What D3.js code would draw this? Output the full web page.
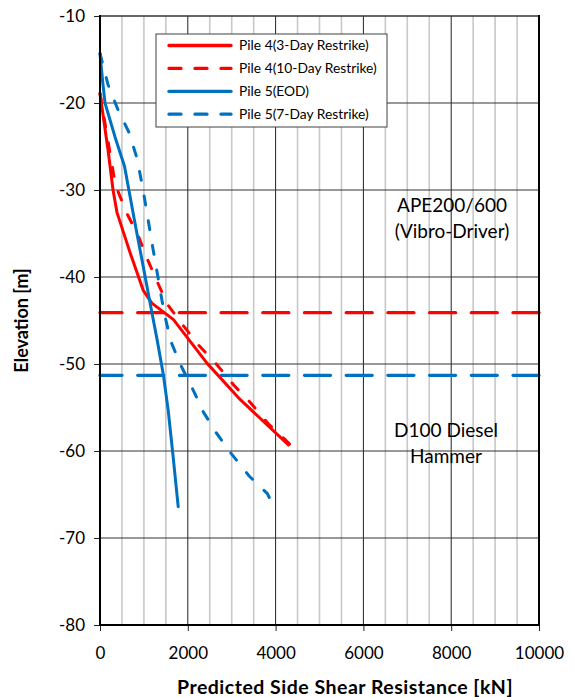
<!DOCTYPE html>
<html><head><meta charset="utf-8">
<script src="https://cdn.jsdelivr.net/npm/d3@7"></script>
<style>body{margin:0;background:#fff}</style>
</head><body>
<svg id="c" width="574" height="697"></svg>
<script>
// ---- data ----
const xTicks = [0, 2000, 4000, 6000, 8000, 10000];
const yTicks = [-80, -70, -60, -50, -40, -30, -20, -10];
const seriesNames = ["Pile 4(3-Day Restrike)", "Pile 4(10-Day Restrike)", "Pile 5(EOD)", "Pile 5(7-Day Restrike)"];
const pile4Day3X = [0, 183, 297, 388, 685, 982, 1180, 1674, 2436, 3196, 4292];
const pile4Day3Y = [-18.9, -25.4, -30, -32.6, -37.2, -41.5, -43.0, -44.9, -49.9, -54.1, -59.3];
const pile4Day10X = [0, 320, 342, 605, 890, 1076, 1300, 1530, 1900, 2240, 2650, 3060, 3420, 3840, 4178, 4340];
const pile4Day10Y = [-18.9, -28.5, -29.3, -32.6, -35.5, -37.9, -40.5, -43.1, -45.6, -47.8, -50, -52.5, -54.4, -56.9, -58.5, -59.3];
const pile5EodX = [0, 60, 114, 342, 560, 640, 826, 1030, 1171, 1301, 1445, 1553, 1667, 1781];
const pile5EodY = [-14.3, -17.5, -20, -23.9, -27.3, -29.5, -34.6, -40, -43.8, -47.2, -51.3, -55.3, -60.7, -66.4];
const pile5Day7X = [0, 183, 411, 662, 845, 959, 1060, 1160, 1320, 1460, 1614, 1826, 2123, 2352, 2648, 2990, 3402, 3813, 3881];
const pile5Day7Y = [-14.3, -17.9, -20.8, -23.4, -26.4, -29.4, -32.3, -35.4, -40, -44.1, -47.4, -50, -53, -55.5, -57.9, -60.3, -62.9, -64.9, -65.6];
const hammerLevels = [-44.1, -51.3];
const annotations = [["APE200/600", "(Vibro-Driver)"], ["D100 Diesel", "Hammer"]];

// ---- layout ----
const svg = d3.select("#c");
const L = 100, R = 539, T = 16, B = 625;
const x = d3.scaleLinear().domain([0, 10000]).range([L, R]);
const y = d3.scaleLinear().domain([-80, -10]).range([B, T]);
const RED = "#ff0000", BLUE = "#0070c0";
const FONT = "Lato, 'Open Sans', sans-serif";

// minor vertical grid
const minor = d3.range(500, 10000, 500).filter(v => v % 2000 !== 0);
svg.append("g").selectAll("line").data(minor).join("line")
  .attr("x1", d => x(d)).attr("x2", d => x(d)).attr("y1", T).attr("y2", B)
  .attr("stroke", "#c8c8c8").attr("stroke-width", 1.6);
// major vertical grid
svg.append("g").selectAll("line").data(xTicks.filter(v => v > 0 && v < 10000)).join("line")
  .attr("x1", d => x(d)).attr("x2", d => x(d)).attr("y1", T).attr("y2", B)
  .attr("stroke", "#222").attr("stroke-width", 1);
// horizontal grid
svg.append("g").selectAll("line").data(yTicks.filter(v => v > -80)).join("line")
  .attr("x1", L).attr("x2", R).attr("y1", d => y(d)).attr("y2", d => y(d))
  .attr("stroke", "#333").attr("stroke-width", d => d === -10 ? 1.6 : 1);

// hammer change levels
svg.append("g").selectAll("line").data(hammerLevels).join("line")
  .attr("x1", L).attr("x2", R).attr("y1", d => y(d)).attr("y2", d => y(d))
  .attr("stroke", (d, i) => i === 0 ? RED : BLUE).attr("stroke-width", 3.3)
  .attr("stroke-linecap", "round").attr("stroke-dasharray", "26,15.7").attr("stroke-dashoffset", 4);

// series
const series = [
  {xs: pile4Day3X, ys: pile4Day3Y, color: RED, dash: null},
  {xs: pile4Day10X, ys: pile4Day10Y, color: RED, dash: "9,16"},
  {xs: pile5EodX, ys: pile5EodY, color: BLUE, dash: null},
  {xs: pile5Day7X, ys: pile5Day7Y, color: BLUE, dash: "9,16"}
];
const line = d3.line().x(d => x(d[0])).y(d => y(d[1]));
series.forEach(s => {
  svg.append("path").datum(s.xs.map((v, i) => [v, s.ys[i]]))
    .attr("d", line).attr("fill", "none").attr("stroke", s.color)
    .attr("stroke-width", 3).attr("stroke-linejoin", "round").attr("stroke-linecap", "round")
    .attr("stroke-dasharray", s.dash);
});

// axes
const yAxis = svg.append("g").attr("transform", `translate(${L},0)`)
  .call(d3.axisLeft(y).tickValues(yTicks).tickSize(6).tickPadding(9).tickFormat(d3.format("d")));
const xAxis = svg.append("g").attr("transform", `translate(0,${B})`)
  .call(d3.axisBottom(x).tickValues(xTicks).tickSize(6).tickPadding(16).tickFormat(d3.format("d")));
[xAxis, yAxis].forEach(a => {
  a.select(".domain").remove();
  a.selectAll(".tick line").attr("stroke", "#222");
  a.selectAll("text").attr("font-family", FONT).attr("font-size", 17).attr("fill", "#000");
});
yAxis.selectAll(".tick text").text(d => d < 0 ? "-" + Math.abs(d) : d);

// frame
svg.append("line").attr("x1", L).attr("x2", L).attr("y1", T - 1).attr("y2", B + 1).attr("stroke", "#000").attr("stroke-width", 2);
svg.append("line").attr("x1", R).attr("x2", R).attr("y1", T - 1).attr("y2", B + 1).attr("stroke", "#000").attr("stroke-width", 2);
svg.append("line").attr("x1", L - 1).attr("x2", R + 1).attr("y1", B).attr("y2", B).attr("stroke", "#000").attr("stroke-width", 2);

// axis titles
svg.append("text").attr("x", 345).attr("y", 694).attr("text-anchor", "middle")
  .attr("font-family", FONT).attr("font-weight", "bold").attr("font-size", 19.5).attr("letter-spacing", 0.5)
  .text("Predicted Side Shear Resistance [kN]");
svg.append("text").attr("transform", `translate(28,${(T + B) / 2}) rotate(-90)`).attr("text-anchor", "middle")
  .attr("font-family", FONT).attr("font-weight", "bold").attr("font-size", 18).text("Elevation [m]");

// annotations
const annPos = [[452, 212], [446, 437]];
annotations.forEach((lines, i) => {
  lines.forEach((t, j) => {
    svg.append("text").attr("x", annPos[i][0]).attr("y", annPos[i][1] + j * 26).attr("text-anchor", "middle")
      .attr("font-family", FONT).attr("font-size", 19).attr("fill", "#000").text(t);
  });
});

// legend
const lg = svg.append("g");
lg.append("rect").attr("x", 156).attr("y", 34).attr("width", 231).attr("height", 93)
  .attr("fill", "#fff").attr("stroke", "#404040").attr("stroke-width", 1);
seriesNames.forEach((n, i) => {
  const cy = 45.5 + i * 22.9;
  const s = series[i];
  lg.append("line").attr("x1", 169).attr("x2", 231).attr("y1", cy).attr("y2", cy)
    .attr("stroke", s.color).attr("stroke-width", 3.3).attr("stroke-linecap", "round")
    .attr("stroke-dasharray", s.dash ? "12,14" : null);
  lg.append("text").attr("x", 239).attr("y", cy + 4.8).attr("font-family", FONT).attr("font-size", 13.8)
    .attr("fill", "#000").text(n);
});
</script>
</body></html>
